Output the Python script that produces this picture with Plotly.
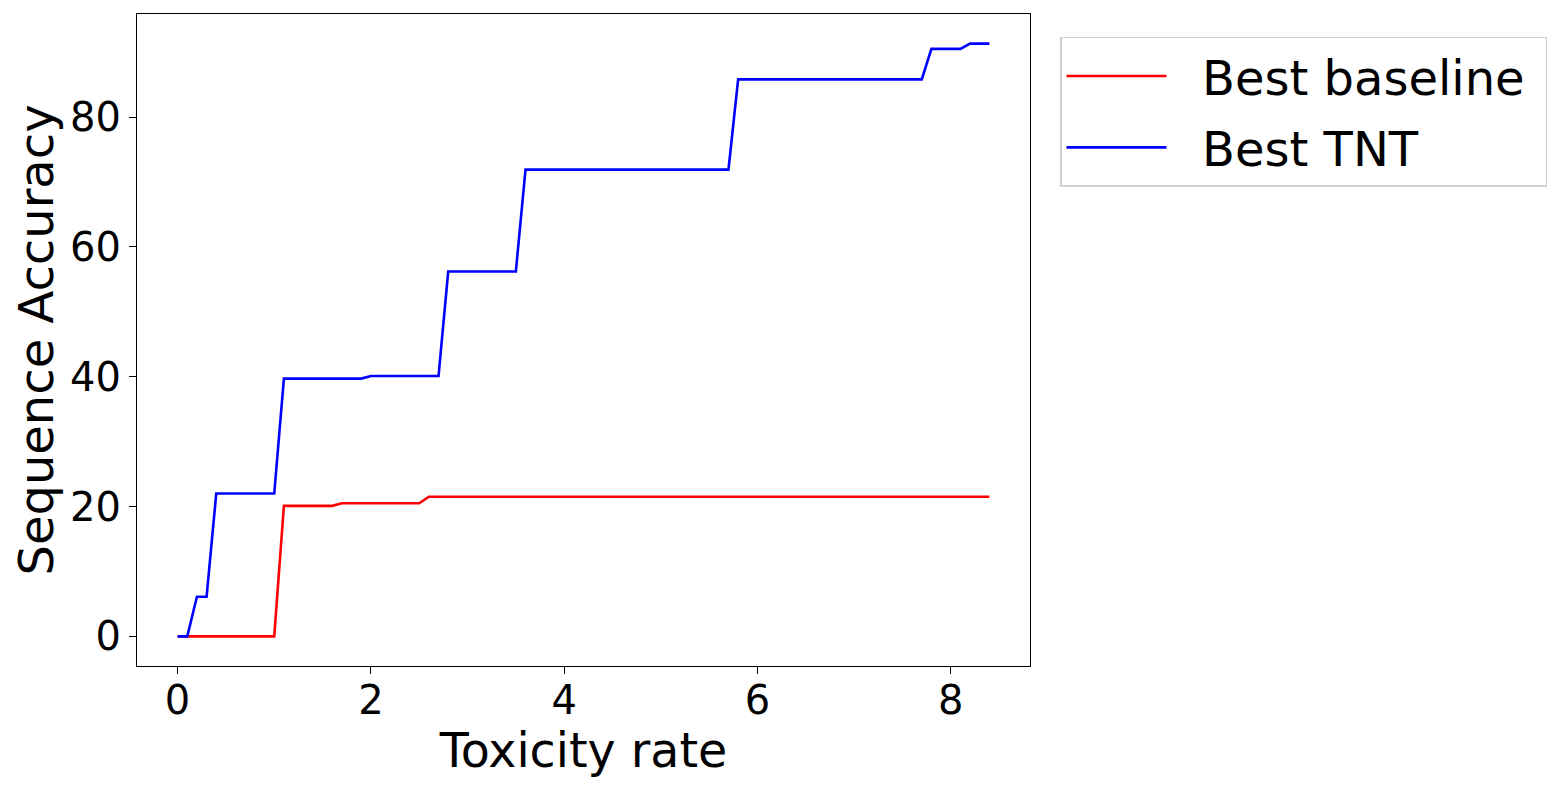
import plotly.graph_objects as go

# corner points of the two step curves (toxicity rate vs sequence accuracy)
tnt_x = [0, 0.1, 0.2, 0.3, 0.4, 1.0, 1.1, 1.9, 2.0, 2.7, 2.8, 3.5, 3.6, 5.7, 5.8, 7.7, 7.8, 8.1, 8.2, 8.4]
tnt_y = [0, 0, 6.1, 6.1, 22.0, 22.0, 39.7, 39.7, 40.1, 40.1, 56.2, 56.2, 71.9, 71.9, 85.8, 85.8, 90.5, 90.5, 91.3, 91.3]

base_x = [0, 1.0, 1.1, 1.6, 1.7, 2.5, 2.6, 8.4]
base_y = [0, 0, 20.1, 20.1, 20.5, 20.5, 21.5, 21.5]

xticks = [0, 2, 4, 6, 8]
yticks = [0, 20, 40, 60, 80]

FONT = "DejaVu Sans"
NB = "\u00a0"

fig = go.Figure()
fig.add_trace(go.Scatter(x=base_x, y=base_y, mode="lines", name=NB * 2 + "Best baseline" + NB,
                         legendgroup="a", line=dict(color="red", width=2.6)))
fig.add_trace(go.Scatter(x=tnt_x, y=tnt_y, mode="lines", name=NB * 2 + "Best TNT",
                         legendgroup="b", line=dict(color="blue", width=2.6)))

axis_common = dict(showgrid=False, zeroline=False, showline=True, linecolor="black",
                   linewidth=1.2, mirror=True, ticks="outside", ticklen=7, tickwidth=1.2,
                   tickcolor="black", tickfont=dict(family=FONT, size=40, color="black"))

fig.update_xaxes(range=[-0.42, 8.82], tickvals=xticks, ticklabelstandoff=-8,
                 title=dict(text="Toxicity rate", font=dict(family=FONT, size=47.5, color="black"),
                            standoff=1),
                 **axis_common)
fig.update_yaxes(range=[-4.565, 95.865], tickvals=yticks,
                 title=dict(text="Sequence Accuracy", font=dict(family=FONT, size=48, color="black"),
                            standoff=5),
                 **axis_common)

fig.update_layout(
    width=1555, height=784,
    margin=dict(l=129, r=533, t=6, b=126),
    plot_bgcolor="white", paper_bgcolor="white",
    font=dict(family=FONT, color="black"),
    legend=dict(x=1.0336, y=0.965, xanchor="left", yanchor="top",
                font=dict(family=FONT, size=48, color="black"),
                bordercolor="#d0d0d0", borderwidth=1.5, bgcolor="white",
                itemwidth=100, traceorder="grouped", tracegroupgap=6),
)

fig.write_html("out.html")
